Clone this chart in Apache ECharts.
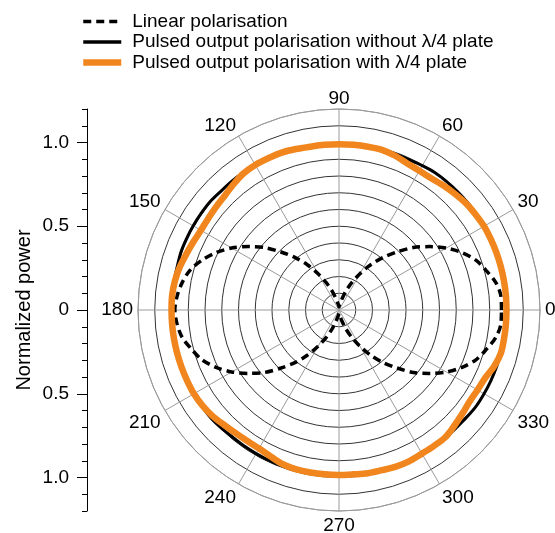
<!DOCTYPE html>
<html>
<head>
<meta charset="utf-8">
<script src="https://cdn.jsdelivr.net/npm/echarts@6/dist/echarts.min.js"></script>
<style>
  html, body { margin: 0; padding: 0; background: #fff; }
  #chart { width: 555px; height: 533px; }
</style>
</head>
<body>
<div id="chart"></div>
<script>
// polar angle in degrees, every 5
const angles = [
  0, 5, 10, 15, 20, 25, 30, 35, 40, 45, 50, 55, 60, 65, 70, 75, 80, 85,
  90, 95, 100, 105, 110, 115, 120, 125, 130, 135, 140, 145, 150, 155, 160, 165, 170, 175,
  180, 185, 190, 195, 200, 205, 210, 215, 220, 225, 230, 235, 240, 245, 250, 255, 260, 265,
  270, 275, 280, 285, 290, 295, 300, 305, 310, 315, 320, 325, 330, 335, 340, 345, 350, 355, 360
];

// normalized power
const linear = [
  0.97, 0.97, 0.95, 0.91, 0.87, 0.81, 0.74, 0.66, 0.58, 0.49, 0.41, 0.33, 0.25, 0.18, 0.12, 0.07, 0.04, 0.03,
  0.02, 0.03, 0.04, 0.07, 0.12, 0.18, 0.25, 0.33, 0.41, 0.49, 0.58, 0.66, 0.74, 0.81, 0.87, 0.92, 0.95, 0.97,
  0.98, 0.97, 0.95, 0.91, 0.87, 0.81, 0.74, 0.66, 0.58, 0.49, 0.41, 0.33, 0.25, 0.18, 0.12, 0.07, 0.04, 0.03,
  0.02, 0.03, 0.04, 0.07, 0.12, 0.18, 0.25, 0.33, 0.41, 0.49, 0.58, 0.66, 0.74, 0.81, 0.87, 0.91, 0.95, 0.97, 0.97
];

const withoutPlate = [
  1.0, 1.0, 1.0, 1.0, 1.0, 1.0, 1.0, 1.0, 1.0, 1.0, 1.0, 1.0, 0.995, 0.99, 0.99, 0.99, 0.99, 0.99,
  0.99, 0.99, 0.99, 0.99, 0.995, 1.0, 1.0, 1.0, 1.0, 1.0, 1.005, 1.005, 1.005, 1.005, 1.005, 1.0, 1.0, 1.0,
  1.0, 1.0, 1.0, 1.0, 1.0, 1.0, 1.0, 1.0, 1.0, 0.995, 0.99, 0.99, 0.99, 0.99, 0.99, 0.99, 0.985, 0.985,
  0.985, 0.985, 0.985, 0.99, 0.99, 0.99, 0.99, 0.99, 0.99, 0.99, 0.995, 1.0, 1.0, 1.0, 1.0, 1.0, 1.0, 1.0, 1.0
];

const withPlate = [
  1.0, 1.0, 1.0, 1.0, 1.0, 1.0, 1.0, 0.995, 0.99, 0.98, 0.97, 0.96, 0.96, 0.965, 0.98, 0.99, 0.99, 0.99,
  0.99, 0.99, 0.99, 0.995, 1.0, 1.0, 1.0, 0.995, 0.98, 0.965, 0.958, 0.953, 0.952, 0.96, 0.971, 0.985, 0.995, 1.0,
  1.0, 1.0, 1.0, 1.0, 1.0, 1.0, 1.0, 0.995, 0.985, 0.97, 0.96, 0.955, 0.955, 0.965, 0.98, 0.985, 0.985, 0.985,
  0.985, 0.985, 0.99, 0.99, 0.995, 0.995, 0.99, 0.99, 0.99, 0.975, 0.962, 0.952, 0.955, 0.962, 0.985, 1.0, 1.0, 1.0, 1.0
];

const seriesNames = [
  'Linear polarisation',
  'Pulsed output polarisation without \u03bb/4 plate',
  'Pulsed output polarisation with \u03bb/4 plate'
];

const FONT = 'Liberation Sans, Arial, Helvetica, sans-serif';
const ORANGE = '#F0861D';

const chart = echarts.init(document.getElementById('chart'));

function toPolar(vals) {
  return angles.map(function (a, i) { return [vals[i], a]; });
}

const ringColors = [];
for (let i = 0; i < 12; i++) ringColors.push('#333');
ringColors.push('#9a9a9a');

const legendWidths = [3.5, 3.3, 6.5];

const option = {
  animation: false,
  legend: {
    orient: 'vertical',
    left: 80,
    top: 12,
    padding: 0,
    itemWidth: 38,
    itemHeight: 14,
    itemGap: 1.5,
    itemStyle: { opacity: 0 },
    textStyle: { fontSize: 19, color: '#000', fontFamily: FONT, padding: [0, 0, 0, 6] },
    data: seriesNames.map(function (n, i) {
      return { name: n, lineStyle: { width: legendWidths[i] }, itemStyle: { opacity: 0 } };
    })
  },
  grid: [
    { left: 87, top: 109, width: 10, height: 402 },
    { left: 87, top: 142.5, width: 10, height: 335 }
  ],
  xAxis: [
    { gridIndex: 0, type: 'value', show: false },
    { gridIndex: 1, type: 'value', show: false }
  ],
  yAxis: [
    {
      gridIndex: 0, type: 'value', min: -1.2, max: 1.2, interval: 0.1,
      axisLine: { show: true, lineStyle: { color: '#000', width: 1 } },
      axisTick: { show: true, length: 5, lineStyle: { color: '#000' } },
      axisLabel: { show: false },
      splitLine: { show: false }
    },
    {
      gridIndex: 1, type: 'value', min: -1, max: 1, interval: 0.5,
      axisLine: { show: false },
      axisTick: { show: true, length: 10, lineStyle: { color: '#000' } },
      axisLabel: {
        margin: 18, fontSize: 19, color: '#000', fontFamily: FONT,
        formatter: function (v) { return v === 0 ? '0' : Math.abs(v).toFixed(1); }
      },
      splitLine: { show: false },
      name: 'Normalized power',
      nameLocation: 'middle',
      nameRotate: 90,
      nameGap: 53,
      nameTextStyle: { fontSize: 20, color: '#000', fontFamily: FONT }
    }
  ],
  polar: { center: [339, 310], radius: 201 },
  angleAxis: {
    type: 'value', min: 0, max: 360, interval: 30,
    startAngle: 0, clockwise: false,
    axisLine: { lineStyle: { color: '#9a9a9a', width: 1 } },
    axisTick: { show: false },
    axisLabel: {
      margin: 5, fontSize: 19, color: '#000', fontFamily: FONT,
      lineHeight: 11, padding: [4, 0, 0, 0],
      formatter: function (v) { return v === 360 ? '' : String(v); }
    },
    splitLine: { show: true, lineStyle: { color: '#9a9a9a', width: 1 } }
  },
  radiusAxis: {
    type: 'value', min: 0, max: 1.2, interval: 0.1,
    axisLine: { show: false },
    axisTick: { show: false },
    axisLabel: { show: false },
    splitLine: { show: true, lineStyle: { color: ringColors, width: 1 } }
  },
  series: [
    {
      name: seriesNames[0], type: 'line', coordinateSystem: 'polar',
      data: toPolar(linear), smooth: 0.3, symbol: 'none',
      lineStyle: { color: '#000', width: 3.5, type: [8, 5] }, itemStyle: { color: '#000' }
    },
    {
      name: seriesNames[1], type: 'line', coordinateSystem: 'polar',
      data: toPolar(withoutPlate), smooth: 0.3, symbol: 'none',
      lineStyle: { color: '#000', width: 3 }, itemStyle: { color: '#000' }
    },
    {
      name: seriesNames[2], type: 'line', coordinateSystem: 'polar',
      data: toPolar(withPlate), smooth: 0.3, symbol: 'none',
      lineStyle: { color: ORANGE, width: 6.5 }, itemStyle: { color: ORANGE }
    }
  ]
};

chart.setOption(option);
</script>
</body>
</html>
